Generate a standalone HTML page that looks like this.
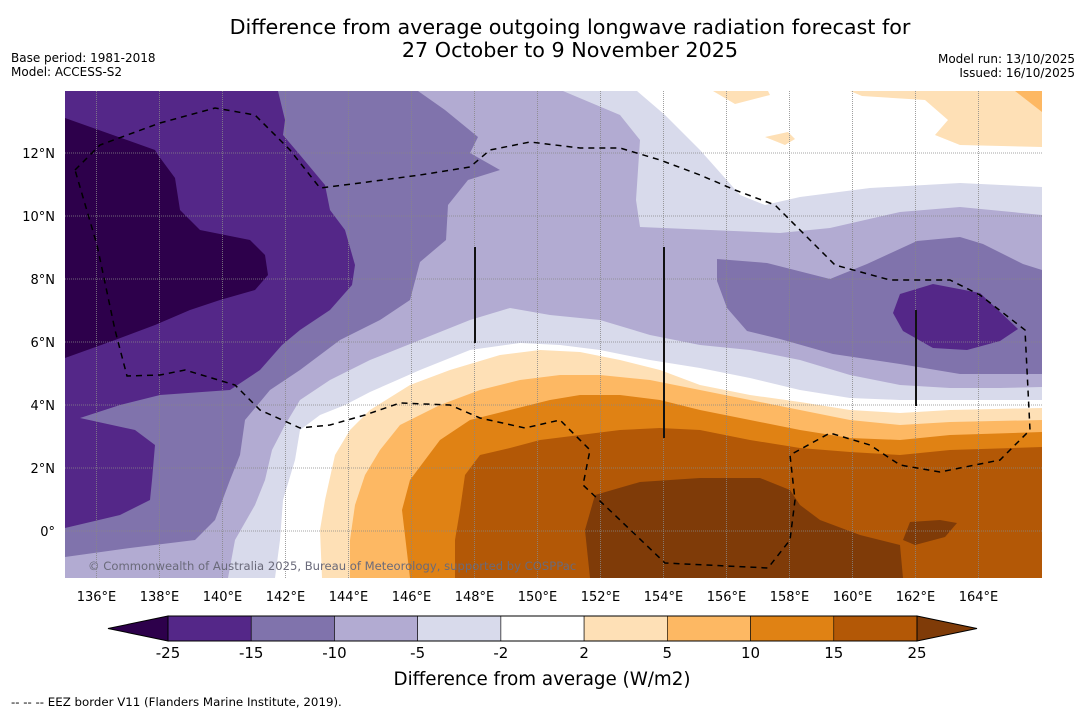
<!DOCTYPE html>
<html><head><meta charset="utf-8">
<style>
body{margin:0;background:#fff;width:1085px;height:713px;overflow:hidden;font-family:"Liberation Sans","DejaVu Sans",sans-serif;}
svg text{font-family:"DejaVu Sans","Liberation Sans",sans-serif;}
</style></head><body>
<svg id="chart" width="1085" height="713" viewBox="0 0 1085 713" xmlns="http://www.w3.org/2000/svg">
<text x="570" y="34" font-size="20.7" text-anchor="middle" fill="#000">Difference from average outgoing longwave radiation forecast for</text>
<text x="570" y="57" font-size="20.7" text-anchor="middle" fill="#000">27 October to 9 November 2025</text>
<text x="11" y="62" font-size="12">Base period: 1981-2018</text>
<text x="11" y="76" font-size="12">Model: ACCESS-S2</text>
<text x="1075" y="63" font-size="12" text-anchor="end">Model run: 13/10/2025</text>
<text x="1075" y="77" font-size="12" text-anchor="end">Issued: 16/10/2025</text>
<defs><clipPath id="mapclip"><rect x="65" y="91" width="977" height="487"/></clipPath></defs>
<g id="map" clip-path="url(#mapclip)">
<rect x="65" y="91" width="977" height="487" fill="#b2abd2"/>
<polygon fill="#d8daeb" points="563,91 1042,91 1042,215 960,207 900,212 830,228 780,233 640,227 636,200 640,140 620,115"/>
<polygon fill="#ffffff" points="637,91 665,115 700,150 740,195 765,205 800,197 870,188 960,183 1042,187 1042,91"/>
<polygon fill="#fee0b6" points="713,91 735,104 770,95 768,91"/>
<polygon fill="#fee0b6" points="850,91 862,96 925,100 948,120 935,135 960,145 1042,147 1042,91"/>
<polygon fill="#fee0b6" points="765,137 788,132 795,139 785,145"/>
<polygon fill="#fdb863" points="1015,91 1042,112 1042,91"/>
<polygon fill="#8073ac" points="65,91 418,91 445,110 478,137 470,153 500,170 468,180 448,205 446,240 420,262 410,300 380,320 340,340 300,370 270,390 245,420 240,455 230,480 215,520 195,540 130,548 65,557"/>
<polygon fill="#542788" points="65,91 278,91 285,120 283,135 300,155 325,185 330,210 345,230 355,265 352,285 330,310 300,330 282,345 260,370 230,390 160,395 120,405 80,418 135,430 155,445 152,480 150,500 120,515 65,528"/>
<polygon fill="#2d004b" points="65,118 155,150 158,155 175,178 180,210 200,230 250,240 265,255 268,275 255,290 220,300 190,310 155,325 115,340 65,358"/>
<polygon fill="#8073ac" points="717,259 767,263 830,279 867,264 917,241 960,237 983,244 1023,264 1042,270 1042,374 1023,374 960,374 900,364 833,354 780,339 747,331 727,308 717,281"/>
<polygon fill="#542788" points="900,294 933,284 980,293 1018,329 1000,341 967,350 933,348 903,331 893,313"/>
<polygon fill="#d8daeb" points="228,578 235,540 255,505 265,480 272,450 285,425 300,400 330,380 370,360 420,340 470,320 510,308 550,315 600,320 650,335 700,345 750,350 800,360 850,375 900,385 950,388 1000,388 1042,387 1042,578"/>
<polygon fill="#ffffff" points="275,578 280,540 283,500 295,460 300,430 320,415 345,405 370,392 420,370 470,350 520,343 560,345 600,350 650,360 700,368 750,378 800,390 850,398 900,400 950,400 1042,400 1042,578"/>
<polygon fill="#fee0b6" points="322,578 320,530 325,500 335,455 350,430 370,410 410,385 450,370 500,355 540,350 580,352 620,360 660,370 700,385 750,395 800,402 850,410 900,413 950,410 1042,408 1042,578"/>
<polygon fill="#fdb863" points="350,578 350,540 355,505 365,475 380,450 400,425 440,405 480,390 520,380 560,375 600,375 650,380 700,390 750,400 800,410 850,420 900,425 950,422 1042,420 1042,578"/>
<polygon fill="#e08214" points="410,578 402,510 410,480 425,460 440,440 470,420 510,410 550,400 580,395 620,395 660,400 700,410 750,420 800,430 850,438 900,440 950,435 1042,432 1042,578"/>
<polygon fill="#b35806" points="455,578 455,540 460,510 465,475 480,455 510,448 540,440 580,435 620,430 660,428 700,430 750,440 800,448 850,452 900,455 950,450 1042,447 1042,578"/>
<polygon fill="#7f3b08" points="590,578 585,530 595,495 640,482 700,478 760,478 790,490 800,505 820,520 860,535 900,545 903,578"/>
<polygon fill="#7f3b08" points="903,540 910,522 940,520 957,523 945,537 915,545"/>
<g id="grid"></g>
<polyline fill="none" stroke="#000" stroke-width="1.5" stroke-dasharray="6,5" points="75,170 100,145 160,123 215,108 255,115 290,150 320,188 360,183 420,175 470,167 490,150 530,142 580,148 620,148 660,160 700,175 735,190 775,205 800,230 835,265 890,280 950,280 980,295 1025,330 1030,430 1000,460 940,472 900,465 870,445 830,433 790,455 795,500 790,540 768,568 665,563 620,520 583,485 590,450 560,420 525,428 480,418 450,405 400,403 365,415 330,425 300,428 260,410 235,385 185,370 160,375 127,376 115,330 97,245 75,170"/>
<line x1="475" y1="247" x2="475" y2="343" stroke="#111" stroke-width="2"/>
<line x1="664" y1="247" x2="664" y2="438" stroke="#111" stroke-width="2"/>
<line x1="916" y1="310" x2="916" y2="406" stroke="#111" stroke-width="2"/>
<text x="88" y="570" font-size="11.6" fill="#6a6a7a">© Commonwealth of Australia 2025, Bureau of Meteorology, supported by COSPPac</text>
</g>
<g id="axes"></g>
<g id="colorbar"></g>
<text x="542" y="685" font-size="18.3" text-anchor="middle">Difference from average (W/m2)</text>
<text x="11" y="706" font-size="11.8">--  --  -- EEZ border V11 (Flanders Marine Institute, 2019).</text>
</svg>
<script>
const lonTicks = [136,138,140,142,144,146,148,150,152,154,156,158,160,162,164];
const latTicks = [0,2,4,6,8,10,12];
const cbLevels = [-25,-15,-10,-5,-2,2,5,10,15,25];
const cbColors = ["#542788","#8073ac","#b2abd2","#d8daeb","#ffffff","#fee0b6","#fdb863","#e08214","#b35806"];
const cbUnder = "#2d004b";
const cbOver = "#7f3b08";
const NS="http://www.w3.org/2000/svg";
function xLon(l){return 65+(l-135)*31.5;}
function yLat(l){return 531-l*31.5;}
function mk(t,a,p){const e=document.createElementNS(NS,t);for(const k in a)e.setAttribute(k,a[k]);p.appendChild(e);return e;}
const grid=document.getElementById('grid'), axes=document.getElementById('axes'), cb=document.getElementById('colorbar');
lonTicks.forEach(l=>{
  const g=mk('line',{x1:xLon(l),x2:xLon(l),y1:91,y2:578,stroke:'#888','stroke-width':0.8,'stroke-dasharray':'1,1'},grid);
  
  
  const t=mk('text',{x:xLon(l),y:601,'font-size':13,'text-anchor':'middle'},axes);
  t.textContent=l+'°E';
  
  
});
latTicks.forEach(l=>{
  const g=mk('line',{x1:65,x2:1042,y1:yLat(l),y2:yLat(l),stroke:'#888','stroke-width':0.8,'stroke-dasharray':'1,1'},grid);
  
  
  const t=mk('text',{x:55,y:yLat(l)+5,'font-size':13,'text-anchor':'end'},axes);
  t.textContent=l===0?'0°':l+'°N';
  
  
});
const cx0=168,cx1=917,cy0=616,cy1=641,n=cbColors.length,w=(cx1-cx0)/n;
const u=mk('polygon',{points:`108,${(cy0+cy1)/2} ${cx0},${cy0} ${cx0},${cy1}`,fill:cbUnder,stroke:'#000','stroke-width':1},cb);


const o=mk('polygon',{points:`977,${(cy0+cy1)/2} ${cx1},${cy0} ${cx1},${cy1}`,fill:cbOver,stroke:'#000','stroke-width':1},cb);


cbColors.forEach((c,i)=>{
  const r=mk('rect',{x:cx0+i*w,y:cy0,width:w,height:cy1-cy0,fill:c,stroke:'#000','stroke-width':0.6},cb);
  
  
});
mk('rect',{x:cx0,y:cy0,width:cx1-cx0,height:cy1-cy0,fill:'none',stroke:'#000','stroke-width':1},cb);
cbLevels.forEach((v,i)=>{
  const t=mk('text',{x:cx0+i*w,y:658,'font-size':15,'text-anchor':'middle'},cb);
  t.textContent=v;
  
  
});
</script>
</body></html>
